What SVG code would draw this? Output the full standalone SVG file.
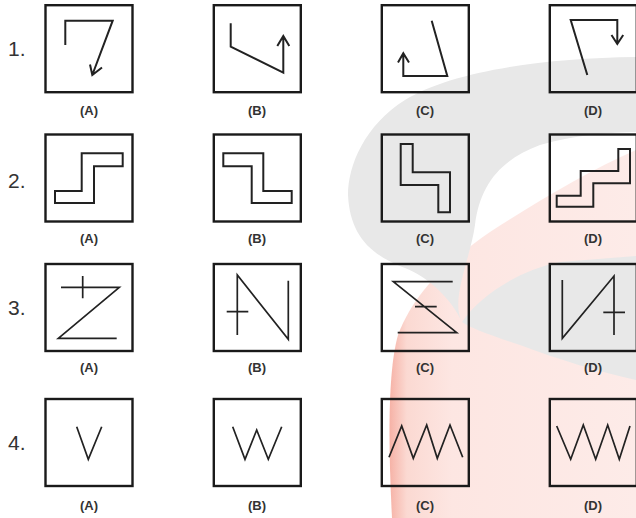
<svg xmlns="http://www.w3.org/2000/svg" width="636" height="518" viewBox="0 0 636 518">
<defs>
<linearGradient id="flame" x1="0" y1="0" x2="1" y2="0">
<stop offset="0" stop-color="#f6b2a6"/>
<stop offset="0.07" stop-color="#fbd9d2"/>
<stop offset="0.25" stop-color="#fde6e2"/>
<stop offset="1" stop-color="#fdebe8"/>
</linearGradient>
<style>
.box{fill:none;stroke:#1a1a1a;stroke-width:2.4}
.f{fill:none;stroke:#222;stroke-width:2;stroke-linejoin:miter;stroke-linecap:butt}
.t{fill:none;stroke:#222;stroke-width:1.7}
.lbl{font-family:"Liberation Sans",Arial,sans-serif;font-weight:bold;font-size:13px;fill:#333;text-anchor:middle}
.num{font-family:"Liberation Sans",Arial,sans-serif;font-size:21px;fill:#333}
</style>
</defs>
<rect width="636" height="518" fill="#fff"/>
<g id="watermark">
<path d="M636,150 C590,170 540,200 490,232 C450,260 415,290 398,335 C388,370 388,440 392,518 L636,518 Z" fill="url(#flame)"/>
<path d="M636,57 C540,58 450,72 405,100 C365,125 348,165 348,195 C350,235 370,255 405,268 C430,278 452,300 462,322 C480,295 520,270 560,262 L636,256 L636,380 C600,372 560,360 520,345 C490,335 470,328 462,322 C450,300 470,260 475,225 C480,185 500,160 540,145 C575,135 610,132 636,132 Z" fill="#e8e8e8"/>
</g>
<g id="q1">
<text class="num" x="8" y="56">1.</text>
<g id="q1a"><rect class="box" x="45.5" y="5.2" width="87" height="87"/>
<path class="f" d="M65.3,45 V20.7 H112.7 L92.3,75 M90,64.5 L92.3,75 L102,67.5"/>
<text class="lbl" x="89" y="115">(A)</text></g>
<g id="q1b"><rect class="box" x="213.8" y="5.2" width="87" height="87"/>
<path class="f" d="M230.7,23.3 V46.7 L283.3,72.7 V36 M277.3,46 L283.3,36 L289.3,46"/>
<text class="lbl" x="257" y="115">(B)</text></g>
<g id="q1c"><rect class="box" x="381.8" y="5.2" width="87" height="87"/>
<path class="f" d="M431.7,20.7 L447.3,76 H403.3 V53.3 M398,62.5 L403.3,53.3 L409,62.5"/>
<text class="lbl" x="425" y="115">(C)</text></g>
<g id="q1d"><rect class="box" x="549.8" y="5.2" width="87" height="87"/>
<path class="f" d="M587.3,75 L570.7,20 H617.3 V44 M611.5,35 L617.3,44 L623.2,35"/>
<text class="lbl" x="593" y="115">(D)</text></g>
</g>
<g id="q2">
<text class="num" x="8" y="188">2.</text>
<g id="q2a"><rect class="box" x="45.5" y="134.5" width="87" height="87"/>
<path class="f" d="M55,191 H81.7 V153.3 H122.7 V166.3 H94 V203 H55 Z"/>
<text class="lbl" x="89" y="243">(A)</text></g>
<g id="q2b"><rect class="box" x="213.8" y="134.5" width="87" height="87"/>
<path class="f" d="M223.3,153.3 H263.3 V191 H291.7 V203 H251.7 V166.3 H223.3 Z"/>
<text class="lbl" x="257" y="243">(B)</text></g>
<g id="q2c"><rect class="box" x="381.8" y="134.5" width="87" height="87"/>
<path class="f" d="M400.7,144 H412.7 V172.3 H450 V212.3 H438.3 V185 H400.7 Z"/>
<text class="lbl" x="425" y="243">(C)</text></g>
<g id="q2d"><rect class="box" x="549.8" y="134.5" width="87" height="87"/>
<path class="f" d="M556.7,206.7 H593.3 V183.3 H630 V149 H618.3 V171 H580.7 V195.7 H556.7 Z"/>
<text class="lbl" x="593" y="243">(D)</text></g>
</g>
<g id="q3">
<text class="num" x="8" y="315">3.</text>
<g id="q3a"><rect class="box" x="45.5" y="264" width="87" height="87"/>
<path class="t" d="M61,287.3 H119.3 L58.3,338.3 H116.7 M82.7,276 V298.3"/>
<text class="lbl" x="89" y="372">(A)</text></g>
<g id="q3b"><rect class="box" x="213.8" y="264" width="87" height="87"/>
<path class="t" d="M237.3,335 V275 L288.3,339.3 V280.7 M226.7,311.7 H248.3"/>
<text class="lbl" x="257" y="372">(B)</text></g>
<g id="q3c"><rect class="box" x="381.8" y="264" width="87" height="87"/>
<path class="t" d="M452.7,281.7 H393.3 L456.7,332.7 H397.7 M415,306.7 H436.7"/>
<text class="lbl" x="425" y="372">(C)</text></g>
<g id="q3d"><rect class="box" x="549.8" y="264" width="87" height="87"/>
<path class="t" d="M562.3,280 V338.3 L614,276 V335 M603.3,312.3 H625"/>
<text class="lbl" x="593" y="372">(D)</text></g>
</g>
<g id="q4">
<text class="num" x="8" y="450">4.</text>
<g id="q4a"><rect class="box" x="45.5" y="399" width="87" height="87"/>
<path class="t" d="M76.7,426.7 L88.3,459.3 L101.7,426.7"/>
<text class="lbl" x="89" y="510">(A)</text></g>
<g id="q4b"><rect class="box" x="213.8" y="399" width="87" height="87"/>
<path class="t" d="M232.7,426.7 L245,459.3 L256.7,430 L268.3,459.3 L281.7,426.7"/>
<text class="lbl" x="257" y="510">(B)</text></g>
<g id="q4c"><rect class="box" x="381.8" y="399" width="87" height="87"/>
<path class="t" d="M389,457.3 L401.7,426 L413.3,458.3 L426.7,425 L437.3,458.3 L450,425 L462.7,457.3"/>
<text class="lbl" x="425" y="510">(C)</text></g>
<g id="q4d"><rect class="box" x="549.8" y="399" width="87" height="87"/>
<path class="t" d="M556.7,426 L570.7,459.3 L583.3,425 L595.7,459.3 L607.7,425 L619.3,459.3 L630,426"/>
<text class="lbl" x="593" y="510">(D)</text></g>
</g>
<g id="connectors"/>
</svg>
